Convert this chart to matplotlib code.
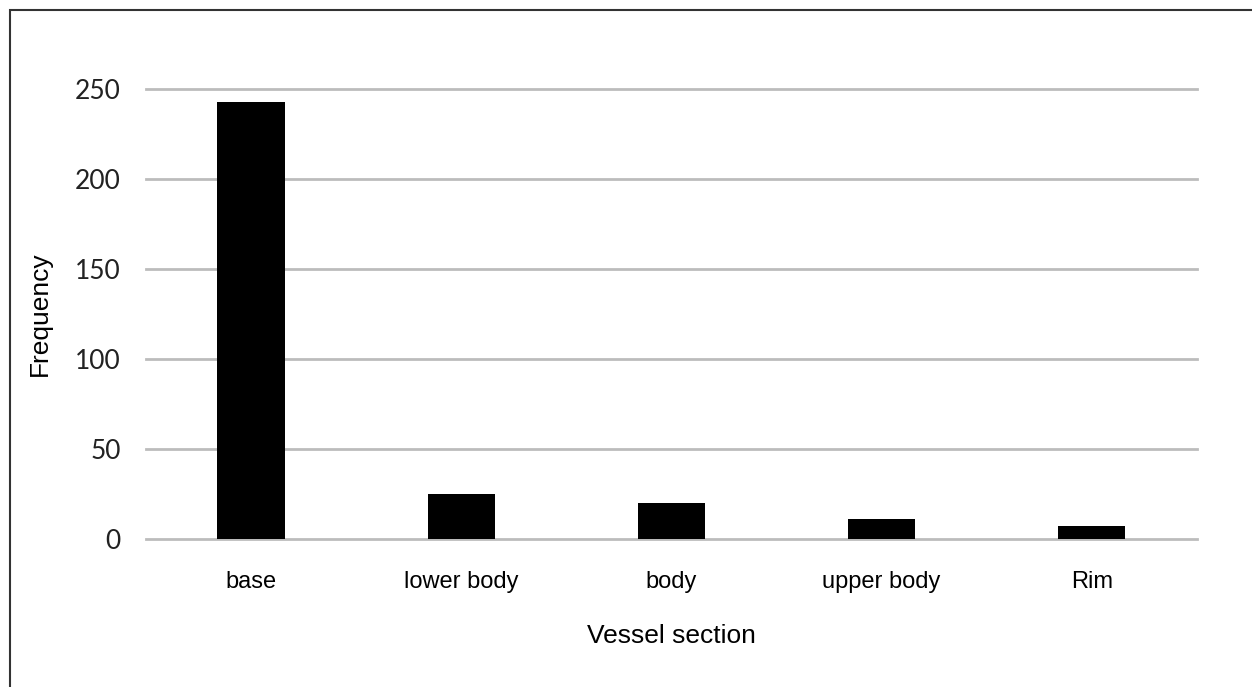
import matplotlib.pyplot as plt
from matplotlib.patches import Rectangle

sections = ["base", "lower body", "body", "upper body", "Rim"]
frequency = [243, 25, 20, 11, 7]
yticks = [0, 50, 100, 150, 200, 250]

fig = plt.figure(figsize=(12.52, 6.87), dpi=100)
ax = fig.add_axes([0.1166, 0.2154, 0.8394, 0.6551])

x = range(len(sections))
ax.bar(x, frequency, width=0.32, color="black", zorder=3)

ax.set_xlim(-0.5, len(sections) - 0.5)
ax.set_ylim(0, 250)
ax.set_yticks(yticks)
ax.set_yticklabels([str(t) for t in yticks], fontsize=19, family="Lato", color="#222222")
ax.set_xticks(list(x))
ax.set_xticklabels(sections, fontsize=17, family="Liberation Sans")
ax.tick_params(length=0)
ax.tick_params(axis="y", pad=18)
ax.tick_params(axis="x", pad=23)

ax.yaxis.grid(True, color="#bcbcbc", linewidth=2, zorder=0)
for gl in ax.get_ygridlines():
    gl.set_clip_on(False)
ax.set_axisbelow(True)
for s in ax.spines.values():
    s.set_visible(False)

ax.set_ylabel("Frequency", fontsize=19, family="Liberation Sans", labelpad=17)
ax.set_xlabel("Vessel section", fontsize=19, family="Liberation Sans", labelpad=22)

# outer frame (only left and top visible in reference)
fig.patches.append(Rectangle((9.5 / 1252, -0.01), 1.02, 1 - 10 / 687 + 0.01,
                             transform=fig.transFigure, fill=False,
                             edgecolor="#333333", linewidth=1.5))

fig.savefig("out.png", dpi=100)
